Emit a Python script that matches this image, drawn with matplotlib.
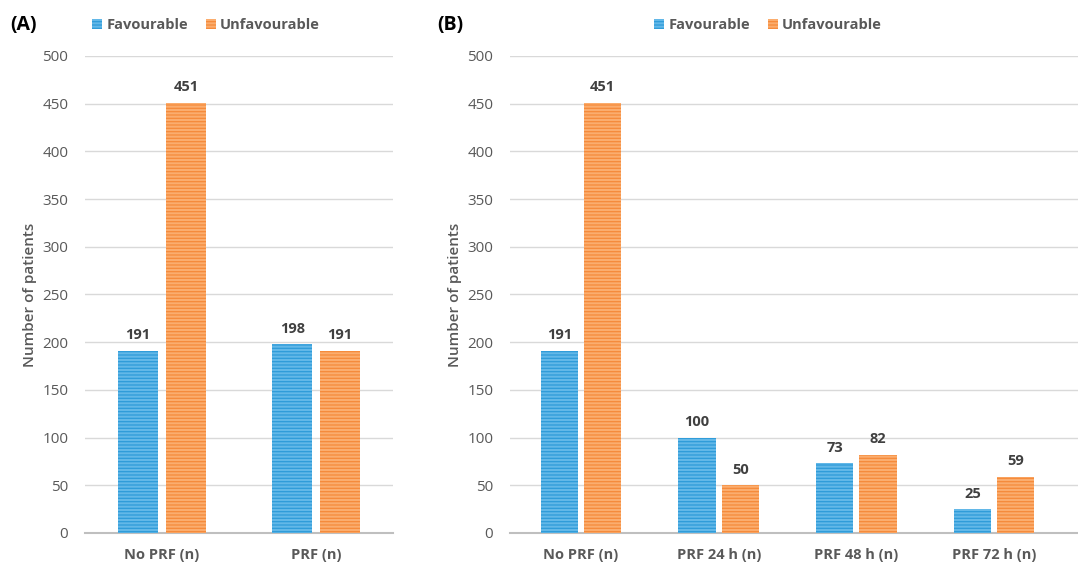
import matplotlib
matplotlib.use("Agg")
import matplotlib.pyplot as plt
import numpy as np

plt.rcParams['font.family'] = ['Open Sans', 'DejaVu Sans']
plt.rcParams['hatch.linewidth'] = 0.9

series = ["Favourable", "Unfavourable"]
cats_a = ["No PRF (n)", "PRF (n)"]
fav_a = [191, 198]
unf_a = [451, 191]
cats_b = ["No PRF (n)", "PRF 24 h (n)", "PRF 48 h (n)", "PRF 72 h (n)"]
fav_b = [191, 100, 73, 25]
unf_b = [451, 50, 82, 59]
yticks = [0, 50, 100, 150, 200, 250, 300, 350, 400, 450, 500]

blue_face, blue_hatch = '#63b8e8', '#2e9bd9'
orng_face, orng_hatch = '#fbad6e', '#f58a3a'
gray = '#595959'
dark = '#404040'

fig = plt.figure(figsize=(10.78, 5.63), dpi=100)
axA = fig.add_axes([85/1078, 1-533/563, 308/1078, 477/563])
axB = fig.add_axes([510/1078, 1-533/563, 568/1078, 477/563])

def draw(ax, cats, fav, unf, width, gap, xlim):
    x = np.arange(len(cats))
    off = width/2 + gap/2
    b1 = ax.bar(x - off, fav, width, color=blue_face, edgecolor=blue_hatch,
                linewidth=0, hatch='-----', label=series[0], zorder=3)
    b2 = ax.bar(x + off, unf, width, color=orng_face, edgecolor=orng_hatch,
                linewidth=0, hatch='-----', label=series[1], zorder=3)
    for bars in (b1, b2):
        for r in bars:
            ax.text(r.get_x() + r.get_width()/2, r.get_height() + 9,
                    f"{int(r.get_height())}", ha='center', va='bottom',
                    fontsize=10.5, fontweight='bold', color=dark)
    ax.set_ylim(0, 500)
    ax.set_xlim(*xlim)
    ax.set_yticks(yticks)
    ax.set_xticks(x)
    ax.set_xticklabels(cats, fontsize=10.5, fontweight='bold', color=gray)
    ax.tick_params(axis='y', labelsize=11, colors=gray, length=0, pad=12)
    ax.tick_params(axis='x', length=0, pad=11)
    ax.grid(axis='y', color='#d9d9d9', linewidth=1, zorder=0)
    for s in ['top', 'right', 'left']:
        ax.spines[s].set_visible(False)
    ax.spines['bottom'].set_color('#bfbfbf')
    ax.spines['bottom'].set_linewidth(1.5)
    ax.set_ylabel("Number of patients", fontsize=11, color=gray, labelpad=4,
                  fontweight='semibold')
    return b1, b2

hA = draw(axA, cats_a, fav_a, unf_a, 0.26, 0.05, (-0.5, 1.5))
hB = draw(axB, cats_b, fav_b, unf_b, 0.27, 0.045, (-0.516, 3.61))

fig.text(10/1078, 1-25/563, "(A)", fontsize=14, fontweight='bold', va='center', ha='left')
fig.text(437/1078, 1-25/563, "(B)", fontsize=14, fontweight='bold', va='center', ha='left')

for hs, cx in ((hA, 206/1078), (hB, 768/1078)):
    leg = fig.legend(hs, series, loc='center', bbox_to_anchor=(cx, 1-25/563),
                     ncol=2, frameon=False, handlelength=0.7, handleheight=0.7,
                     handletextpad=0.3, columnspacing=1.2,
                     prop={'size': 10.5, 'weight': 'bold'})
    for t in leg.get_texts():
        t.set_color(gray)

fig.savefig("out.png", dpi=100)
